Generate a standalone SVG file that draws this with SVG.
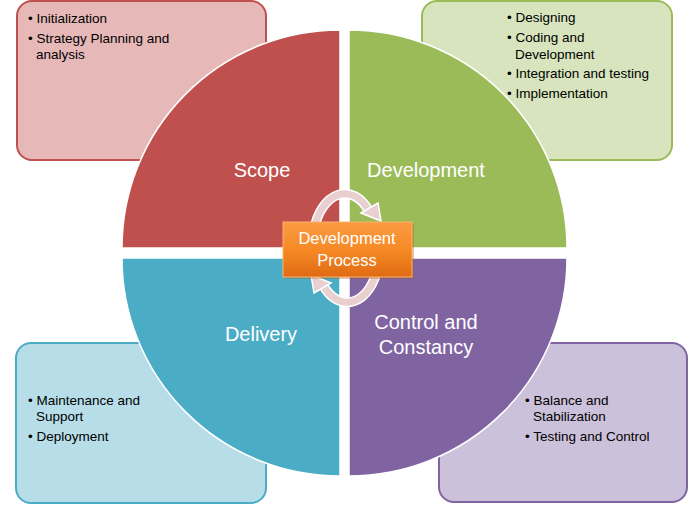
<svg xmlns="http://www.w3.org/2000/svg" width="689" height="505" viewBox="0 0 689 505">
<defs>
<linearGradient id="og" x1="0" y1="0" x2="0" y2="1">
<stop offset="0" stop-color="#fb9b45"/>
<stop offset="0.5" stop-color="#f68a25"/>
<stop offset="1" stop-color="#e06a12"/>
</linearGradient>
<style>
.bx{stroke-width:2}
.q{stroke:#fff;stroke-width:1.5}
.bt{font-family:"Liberation Sans",Arial,sans-serif;font-size:13.5px;fill:#000}
.ql{font-family:"Liberation Sans",Arial,sans-serif;font-size:20px;fill:#fff;text-anchor:middle}
.cl{font-family:"Liberation Sans",Arial,sans-serif;font-size:16.5px;fill:#fff;text-anchor:middle}
.arw{fill:none;stroke:#e8cfd0;stroke-width:7}
.arwo{fill:none;stroke:#fff;stroke-width:10}
</style>
</defs>
<rect width="689" height="505" fill="#fff"/>
<g id="box-scope">
<rect class="bx" x="17" y="1" width="249" height="159" rx="15" fill="#e6b9b8" stroke="#c0504d"/>
<text class="bt" x="28" y="23">• Initialization</text>
<text class="bt" x="28" y="43">• Strategy Planning and</text>
<text class="bt" x="36" y="59">analysis</text>
</g>
<g id="box-development">
<rect class="bx" x="422" y="1" width="250" height="159" rx="15" fill="#d7e4bd" stroke="#9bbb59"/>
<text class="bt" x="507" y="22">• Designing</text>
<text class="bt" x="507" y="42">• Coding and</text>
<text class="bt" x="515" y="59">Development</text>
<text class="bt" x="507" y="78">• Integration and testing</text>
<text class="bt" x="507" y="98">• Implementation</text>
</g>
<g id="box-delivery">
<rect class="bx" x="16" y="343" width="250" height="160" rx="15" fill="#b7dee8" stroke="#4bacc6"/>
<text class="bt" x="28" y="405">• Maintenance and</text>
<text class="bt" x="36" y="421">Support</text>
<text class="bt" x="28" y="441">• Deployment</text>
</g>
<g id="box-control">
<rect class="bx" x="439" y="343" width="248" height="159" rx="15" fill="#ccc1da" stroke="#8064a2"/>
<text class="bt" x="525" y="405">• Balance and</text>
<text class="bt" x="533" y="421">Stabilization</text>
<text class="bt" x="525" y="441">• Testing and Control</text>
</g>
<g id="quad-scope">
<path class="q" d="M340,248 L122,248 A218,218 0 0 1 340,30 Z" fill="#c0504d"/>
<text class="ql" x="262" y="177">Scope</text>
</g>
<g id="quad-development">
<path class="q" d="M349,248 L349,30 A218,218 0 0 1 567,248 Z" fill="#9bbb59"/>
<text class="ql" x="426" y="177">Development</text>
</g>
<g id="quad-delivery">
<path class="q" d="M340,258 L340,476 A218,218 0 0 1 122,258 Z" fill="#4bacc6"/>
<text class="ql" x="261" y="341">Delivery</text>
</g>
<g id="quad-control">
<path class="q" d="M349,258 L567,258 A218,218 0 0 1 349,476 Z" fill="#8064a2"/>
<text class="ql" x="426" y="329">Control and</text>
<text class="ql" x="426" y="354">Constancy</text>
</g>
<g id="connectors">
<path class="arwo" d="M314,230 A32,50 0 0 1 369,211"/>
<path class="arw" d="M314,230 A32,50 0 0 1 369,211"/>
<polygon points="361,213 378,203 381,221" fill="#e8cfd0" stroke="#fff" stroke-width="1.5"/>
<path class="arwo" d="M378,266 A32,50 0 0 1 323,285"/>
<path class="arw" d="M378,266 A32,50 0 0 1 323,285"/>
<polygon points="331,283 314,293 311,275" fill="#e8cfd0" stroke="#fff" stroke-width="1.5"/>
</g>
<g id="center">
<rect x="285" y="224" width="129" height="55" fill="#b05a10" opacity="0.35"/>
<rect x="283" y="222" width="129" height="55" fill="url(#og)" stroke="#fbb36e" stroke-width="1"/>
<text class="cl" x="347" y="244">Development</text>
<text class="cl" x="347" y="266">Process</text>
</g>
</svg>
